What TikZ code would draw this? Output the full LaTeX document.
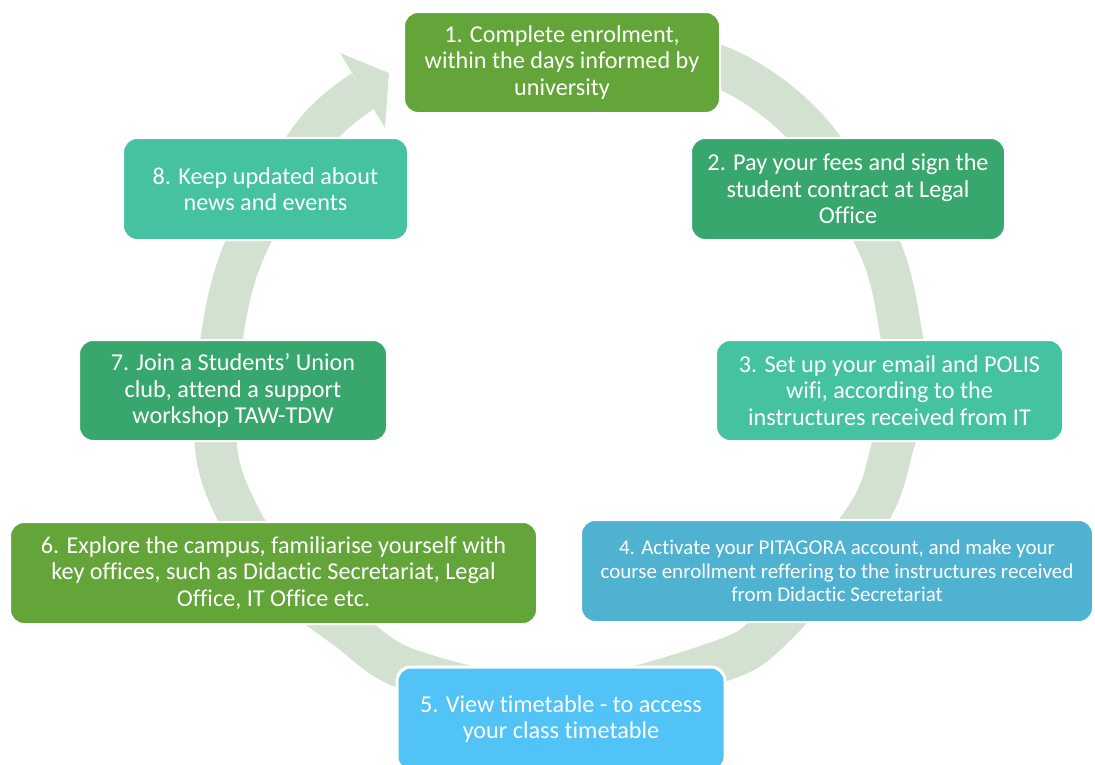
\documentclass[tikz,border=0pt]{standalone}
\usepackage{fontspec}
\setmainfont{Carlito}[Ligatures=NoCommon]
\definecolor{ringc}{RGB}{211,226,208}
\definecolor{olive}{RGB}{99,165,57}
\definecolor{sea}{RGB}{56,167,110}
\definecolor{teal}{RGB}{69,194,162}
\definecolor{cyanb}{RGB}{78,178,208}
\definecolor{skyb}{RGB}{82,195,246}
\tikzset{
  stepbox/.style={rounded corners=14pt, draw=white, line width=2pt, text=white,
    align=center, inner sep=0pt, font=\fontsize{24.2}{26.6}\selectfont},
  smalltext/.style={font=\fontsize{21}{23.5}\selectfont},
  ring/.style={draw=ringc, line width=42pt, line cap=butt}
}
\begin{document}
\begin{tikzpicture}[x=1pt,y=-1pt]
\useasboundingbox (0,0) rectangle (1095,764);
\clip (0,0) rectangle (1095,764);
% cycle ring
\draw[ring] plot[smooth, tension=0.55] coordinates {(600,42) (722,67.5) (811,133) (879.5,247) (901,333) (905,392) (893,445) (867,516) (774,627) (715,663) (560,700) (410,670) (346,628) (282,578) (239.5,517) (216,447) (222.5,333) (247.5,243) (314,134) (363,91)};
\fill[ringc] (340,53) -- (389,73) -- (385,128) -- cycle;
% boxes
\node[stepbox, fill=olive, minimum width=316pt, minimum height=101pt] (n1) at (562,62.5)
  {1. Complete enrolment,\\ within the days informed by\\ university};
\node[stepbox, fill=sea, minimum width=314pt, minimum height=102pt] (n2) at (848,189)
  {2. Pay your fees and sign the\\ student contract at Legal\\ Office};
\node[stepbox, fill=teal, minimum width=347pt, minimum height=101pt] (n3) at (889.5,390.5)
  {3. Set up your email and POLIS\\ wifi, according to the\\ instructures received from IT};
\node[stepbox, smalltext, fill=cyanb, minimum width=512pt, minimum height=102pt] (n4) at (837,571)
  {4. Activate your PITAGORA account, and make your\\ course enrollment reffering to the instructures received\\ from Didactic Secretariat};
\node[stepbox, fill=skyb, line width=3pt, minimum width=328pt, minimum height=104pt] (n5) at (561,719)
  {5. View timetable - to access\\ your class timetable};
\node[stepbox, fill=olive, minimum width=527pt, minimum height=102pt] (n6) at (273.5,573)
  {6. Explore the campus, familiarise yourself with\\ key offices, such as Didactic Secretariat, Legal\\ Office, IT Office etc.};
\node[stepbox, fill=sea, minimum width=308pt, minimum height=101pt] (n7) at (233,390.5)
  {7. Join a Students’ Union\\ club, attend a support\\ workshop TAW-TDW};
\node[stepbox, fill=teal, minimum width=285pt, minimum height=102pt] (n8) at (265.5,189)
  {8. Keep updated about\\ news and events};
\end{tikzpicture}
\end{document}
